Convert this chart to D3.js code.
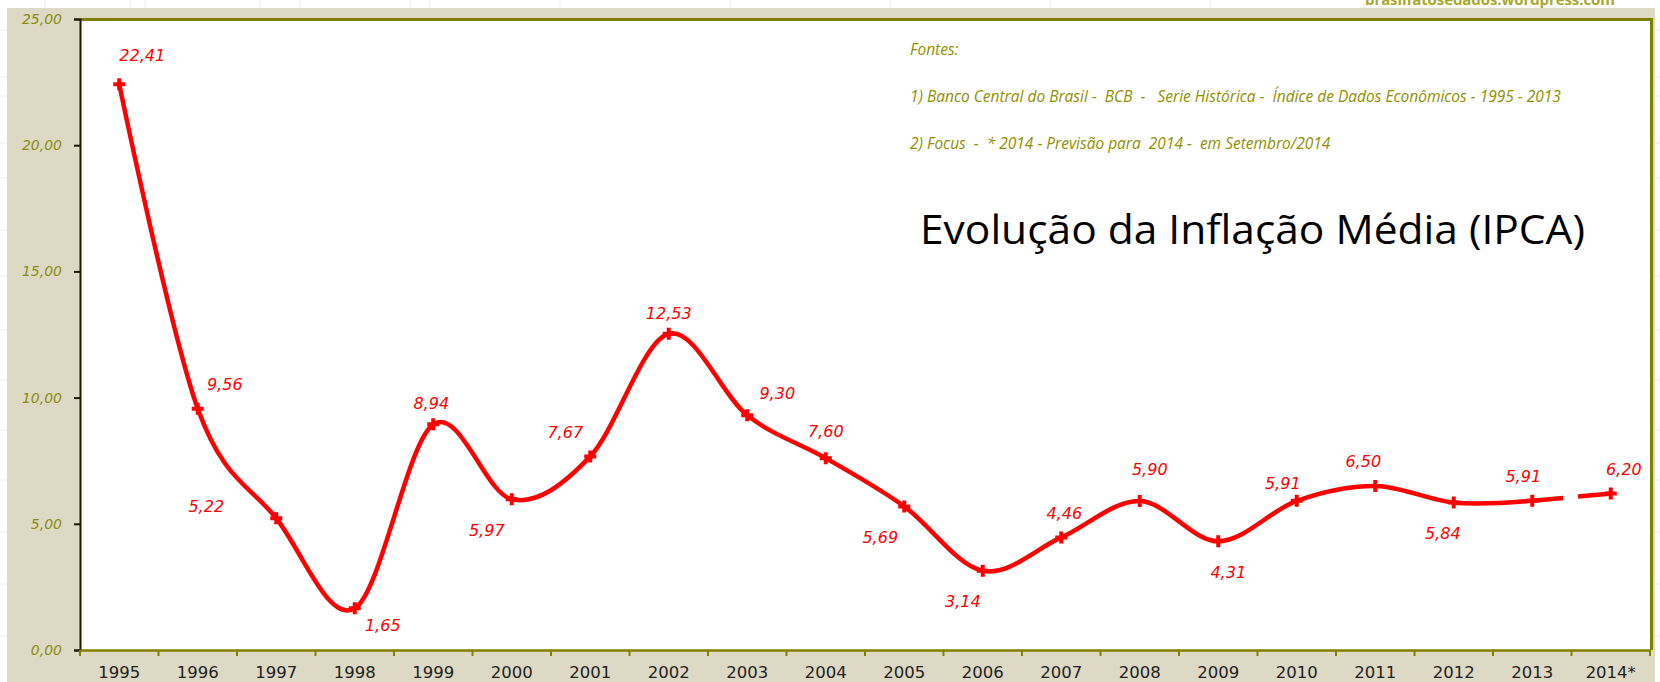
<!DOCTYPE html>
<html>
<head>
<meta charset="utf-8">
<script src="https://cdn.jsdelivr.net/npm/d3@7"></script>
<style>
  html, body { margin: 0; padding: 0; background: #fff; }
  svg { display: block; }
</style>
</head>
<body>
<svg id="chart" width="1660" height="682"></svg>
<script>
// IPCA - inflacao media anual (%)
var years = ['1995','1996','1997','1998','1999','2000','2001','2002','2003','2004',
             '2005','2006','2007','2008','2009','2010','2011','2012','2013','2014*'];
var ipca = [22.41, 9.56, 5.22, 1.65, 8.94, 5.97, 7.67, 12.53, 9.30, 7.60,
            5.69, 3.14, 4.46, 5.90, 4.31, 5.91, 6.50, 5.84, 5.91, 6.20];
var yTicks = [0, 5, 10, 15, 20, 25];
var titleText = 'Evolução da Inflação Média (IPCA)';
var sourceLines = [
  'Fontes:',
  '1) Banco Central do Brasil -  BCB  -   Serie Histórica -  Índice de Dados Econômicos - 1995 - 2013',
  '2) Focus  -  * 2014 - Previsão para  2014 -  em Setembro/2014'
];
// label nudge from its marker (px), placed by hand in the original
var labelNudge = [[23,-29],[27,-24],[-70,-12],[28,17],[-2,-21],[-25,31],[-25,-24],[0,-20],
                  [30,-22],[0,-27],[-24,31],[-20,31],[3,-24],[10,-32],[10,31],[-14,-17],
                  [-12,-24],[-11,31],[-9,-24],[13,-24]];

var svg = d3.select('#chart');
var W = 1660, H = 682;
var m = {left: 80, top: 19, right: 1650, bottom: 650};
var fmt = function(v){ return d3.format('.2f')(v).replace('.', ','); };

// spreadsheet behind the chart
svg.append('rect').attr('width', W).attr('height', H).attr('fill', '#fff');
var gridG = svg.append('g').attr('stroke', '#ececec').attr('stroke-width', 1);
[30, 77, 96, 143, 178, 230, 276, 330, 380, 430, 480, 532, 584, 636].forEach(function(y){
  gridG.append('line').attr('x1', 0).attr('x2', 7).attr('y1', y).attr('y2', y);
  gridG.append('line').attr('x1', 1655).attr('x2', W).attr('y1', y).attr('y2', y);
});
[45, 130, 145, 260, 300, 410, 430, 560, 730, 890, 1050, 1210, 1370, 1530].forEach(function(x){
  gridG.append('line').attr('x1', x).attr('x2', x).attr('y1', 0).attr('y2', 8);
});
svg.append('text').attr('x', 1365).attr('y', 5)
  .attr('font-family', 'Open Sans').attr('font-size', 15).attr('font-weight', 'bold')
  .attr('fill', '#a8a830').attr('textLength', 250)
  .text('brasilfatosedados.wordpress.com');

// chart area
svg.append('rect').attr('x', 7).attr('y', 8).attr('width', 1648).attr('height', H - 8)
  .attr('fill', '#ddd9c4');
svg.append('rect').attr('x', m.left).attr('y', m.top)
  .attr('width', m.right - m.left).attr('height', m.bottom - m.top).attr('fill', '#fff');

var x = d3.scaleBand().domain(years).range([m.left, m.right]);
var y = d3.scaleLinear().domain([0, 25]).range([m.bottom, m.top]);

// frame top / right
svg.append('path')
  .attr('d', 'M' + m.left + ',' + (m.top + 0.5) + 'H' + (m.right + 1.5) + 'V' + m.bottom)
  .attr('fill', 'none').attr('stroke', '#808000').attr('stroke-width', 3);

// y axis
var yAxis = svg.append('g').attr('transform', 'translate(' + m.left + ',0)')
  .call(d3.axisLeft(y).tickValues(yTicks).tickFormat(fmt).tickSize(6).tickPadding(12));
yAxis.select('.domain').attr('stroke', '#1a1a00').attr('stroke-width', 2);
yAxis.selectAll('.tick line').attr('stroke', '#1a1a00').attr('stroke-width', 2);
yAxis.selectAll('.tick text')
  .attr('font-family', 'DejaVu Sans').attr('font-size', 14).attr('font-style', 'italic')
  .attr('fill', '#8c8c10');

// x axis: ticks at band edges
var xAxis = svg.append('g').attr('transform', 'translate(0,' + m.bottom + ')')
  .call(d3.axisBottom(x).tickSize(0).tickPadding(16));
xAxis.select('.domain').attr('stroke', '#808000').attr('stroke-width', 2.5);
xAxis.selectAll('.tick text')
  .attr('font-family', 'DejaVu Sans').attr('font-size', 16.5).attr('fill', '#222');
xAxis.selectAll('.edge').data(years).enter().append('line')
  .attr('x1', function(d){ return x(d); }).attr('x2', function(d){ return x(d); })
  .attr('y1', 0).attr('y2', 6).attr('stroke', '#808000').attr('stroke-width', 2);
xAxis.append('line').attr('x1', m.right).attr('x2', m.right).attr('y1', 0).attr('y2', 6)
  .attr('stroke', '#808000').attr('stroke-width', 2);

// source notes
svg.append('g').selectAll('text').data(sourceLines).enter().append('text')
  .attr('x', 910).attr('y', function(d, i){ return 55 + i * 47; })
  .attr('font-family', 'Open Sans').attr('font-size', 15.5).attr('font-style', 'italic')
  .attr('fill', '#8f8f00').attr('xml:space', 'preserve').style('white-space', 'pre')
  .text(function(d){ return d; });

// title
svg.append('text').attr('x', 920).attr('y', 244)
  .attr('font-family', 'Open Sans').attr('font-size', 40).attr('fill', '#000')
  .attr('textLength', 665).attr('lengthAdjust', 'spacingAndGlyphs')
  .text(titleText);

// series
var pts = ipca.map(function(v, i){ return [x(years[i]) + x.bandwidth() / 2, y(v)]; });
var line = d3.line().curve(d3.curveCardinal.tension(0));
var nLast = pts.length - 1;

svg.append('path').attr('d', line(pts.slice(0, nLast)))
  .attr('fill', 'none').attr('stroke', '#ff0000').attr('stroke-width', 4.5)
  .attr('stroke-linejoin', 'round');
svg.append('path').attr('d', d3.line()(pts.slice(nLast - 1)))
  .attr('fill', 'none').attr('stroke', '#ff0000').attr('stroke-width', 4.5)
  .attr('stroke-dasharray', '31,15');

var sym = d3.symbol().type(d3.symbolCross).size(80);
svg.append('g').selectAll('path').data(pts).enter().append('path')
  .attr('transform', function(d){ return 'translate(' + d[0] + ',' + d[1] + ')'; })
  .attr('d', sym).attr('fill', '#ff0000');

svg.append('g').selectAll('text').data(pts).enter().append('text')
  .attr('x', function(d, i){ return d[0] + labelNudge[i][0]; })
  .attr('y', function(d, i){ return d[1] + labelNudge[i][1]; })
  .attr('text-anchor', 'middle').attr('dominant-baseline', 'central')
  .attr('font-family', 'DejaVu Sans').attr('font-size', 16).attr('font-style', 'italic')
  .attr('fill', '#ff0000')
  .text(function(d, i){ return fmt(ipca[i]); });
</script>
</body>
</html>
